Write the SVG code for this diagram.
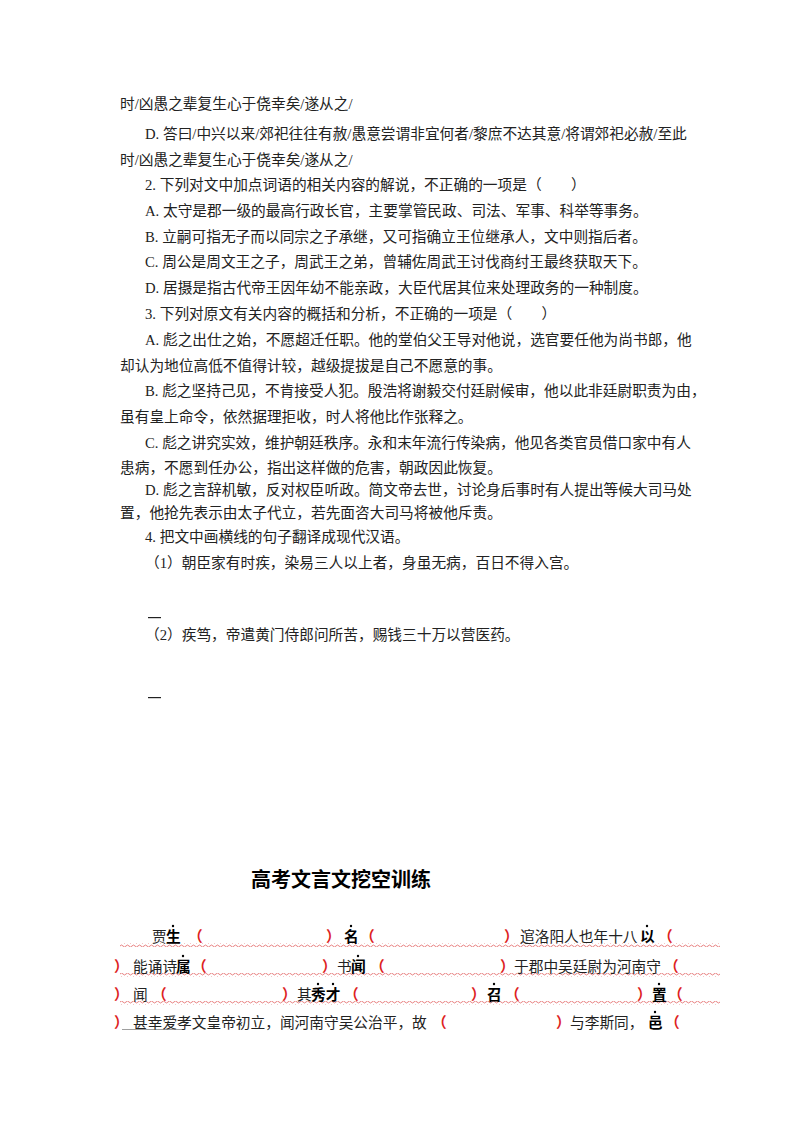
<svg xmlns="http://www.w3.org/2000/svg" width="800" height="1132" viewBox="0 0 800 1132">
<style>
text{font-family:"Liberation Serif","Noto Sans CJK SC",serif;font-size:14.7px;fill:#222}
.t{font-family:"Noto Sans CJK SC",sans-serif;font-size:20px;font-weight:bold;fill:#000}
.b{font-weight:bold;fill:#000}
.r{fill:#d22;font-weight:bold}
.d{fill:#000}
</style>
<defs>
<pattern id="wave" x="0" y="0" width="6" height="4" patternUnits="userSpaceOnUse">
<path d="M0 2 Q1.5 0 3 2 T6 2" fill="none" stroke="#e06060" stroke-width="0.8"/>
</pattern>
</defs>
<rect width="800" height="1132" fill="#fff"/>
<g id="body">
<text x="120" y="109">时/凶愚之辈复生心于侥幸矣/遂从之/</text>
<text x="145" y="139">D. 答曰/中兴以来/郊祀往往有赦/愚意尝谓非宜何者/黎庶不达其意/将谓郊祀必赦/至此</text>
<text x="120" y="165">时/凶愚之辈复生心于侥幸矣/遂从之/</text>
<text x="145" y="190">2. 下列对文中加点词语的相关内容的解说，不正确的一项是（　　）</text>
<text x="145" y="216">A. 太守是郡一级的最高行政长官，主要掌管民政、司法、军事、科举等事务。</text>
<text x="145" y="242">B. 立嗣可指无子而以同宗之子承继，又可指确立王位继承人，文中则指后者。</text>
<text x="145" y="267">C. 周公是周文王之子，周武王之弟，曾辅佐周武王讨伐商纣王最终获取天下。</text>
<text x="145" y="293">D. 居摄是指古代帝王因年幼不能亲政，大臣代居其位来处理政务的一种制度。</text>
<text x="145" y="319">3. 下列对原文有关内容的概括和分析，不正确的一项是（　　）</text>
<text x="145" y="345">A. 彪之出仕之始，不愿超迁任职。他的堂伯父王导对他说，选官要任他为尚书郎，他</text>
<text x="120" y="371">却认为地位高低不值得计较，越级提拔是自己不愿意的事。</text>
<text x="145" y="396">B. 彪之坚持己见，不肯接受人犯。殷浩将谢毅交付廷尉候审，他以此非廷尉职责为由，</text>
<text x="120" y="422">虽有皇上命令，依然据理拒收，时人将他比作张释之。</text>
<text x="145" y="448">C. 彪之讲究实效，维护朝廷秩序。永和末年流行传染病，他见各类官员借口家中有人</text>
<text x="120" y="473">患病，不愿到任办公，指出这样做的危害，朝政因此恢复。</text>
<text x="145" y="495">D. 彪之言辞机敏，反对权臣听政。简文帝去世，讨论身后事时有人提出等候大司马处</text>
<text x="120" y="518">置，他抢先表示由太子代立，若先面咨大司马将被他斥责。</text>
<text x="145" y="542">4. 把文中画横线的句子翻译成现代汉语。</text>
<text x="145" y="568">（1）朝臣家有时疾，染易三人以上者，身虽无病，百日不得入宫。</text>
<rect x="148" y="617" width="13" height="1.2" fill="#222"/>
<text x="145" y="640">（2）疾笃，帝遣黄门侍郎问所苦，赐钱三十万以营医药。</text>
<rect x="148" y="697" width="13" height="1.2" fill="#222"/>
</g>
<g id="title"><text class="t" x="341" y="887" text-anchor="middle">高考文言文挖空训练</text></g>
<g id="exercise">
<rect x="120" y="943" width="600" height="4" fill="url(#wave)"/>
<rect x="120" y="973" width="600" height="4" fill="url(#wave)"/>
<rect x="120" y="1001" width="600" height="4" fill="url(#wave)"/>
<rect x="122" y="1029" width="62" height="0.8" fill="#888"/>
<text x="152" y="942">贾</text><text class="b" x="166" y="942">生</text><circle class="d" cx="173" cy="926" r="1.2"/>
<text class="r" x="188" y="942">（</text><text class="r" x="326" y="942">）</text>
<text class="b" x="344" y="942">名</text><circle class="d" cx="351" cy="926" r="1.2"/>
<text class="r" x="360" y="942">（</text><text class="r" x="504" y="942">）</text>
<text x="520" y="942">逭洛阳人也年十八</text><text class="b" x="640" y="942">以</text><circle class="d" cx="647" cy="926" r="1.2"/>
<text class="r" x="658" y="942">（</text>
<text class="r" x="114" y="972">）</text><text x="133" y="972">能诵诗</text><text class="b" x="176" y="972">属</text><circle class="d" cx="183" cy="956" r="1.2"/>
<text class="r" x="192" y="972">（</text><text class="r" x="322" y="972">）</text>
<text x="337" y="972">书</text><text class="b" x="351" y="972">闻</text><circle class="d" cx="358" cy="956" r="1.2"/>
<text class="r" x="370" y="972">（</text><text class="r" x="500" y="972">）</text>
<text x="514" y="972">于郡中吴廷尉为河南守</text><text class="r" x="664" y="972">（</text>
<text class="r" x="114" y="1000">）</text><text x="133" y="1000">闻</text>
<text class="r" x="152" y="1000">（</text><text class="r" x="282" y="1000">）</text>
<text x="297" y="1000">其</text><text class="b" x="311" y="1000">秀才</text><circle class="d" cx="318" cy="984" r="1.2"/><circle class="d" cx="333" cy="984" r="1.2"/>
<text class="r" x="344" y="1000">（</text><text class="r" x="471" y="1000">）</text>
<text class="b" x="487" y="1000">召</text><circle class="d" cx="494" cy="984" r="1.2"/>
<text class="r" x="505" y="1000">（</text><text class="r" x="637" y="1000">）</text>
<text class="b" x="652" y="1000">置</text><circle class="d" cx="659" cy="984" r="1.2"/>
<text class="r" x="668" y="1000">（</text>
<text class="r" x="114" y="1028">）</text><text x="133" y="1028">甚幸爱孝文皇帝初立，闻河南守吴公治平，故</text>
<text class="r" x="432" y="1028">（</text><text class="r" x="556" y="1028">）</text>
<text x="570" y="1028">与李斯同，</text><text class="b" x="648" y="1028">邑</text><circle class="d" cx="655" cy="1012" r="1.2"/>
<text class="r" x="665" y="1028">（</text>
</g>
</svg>
